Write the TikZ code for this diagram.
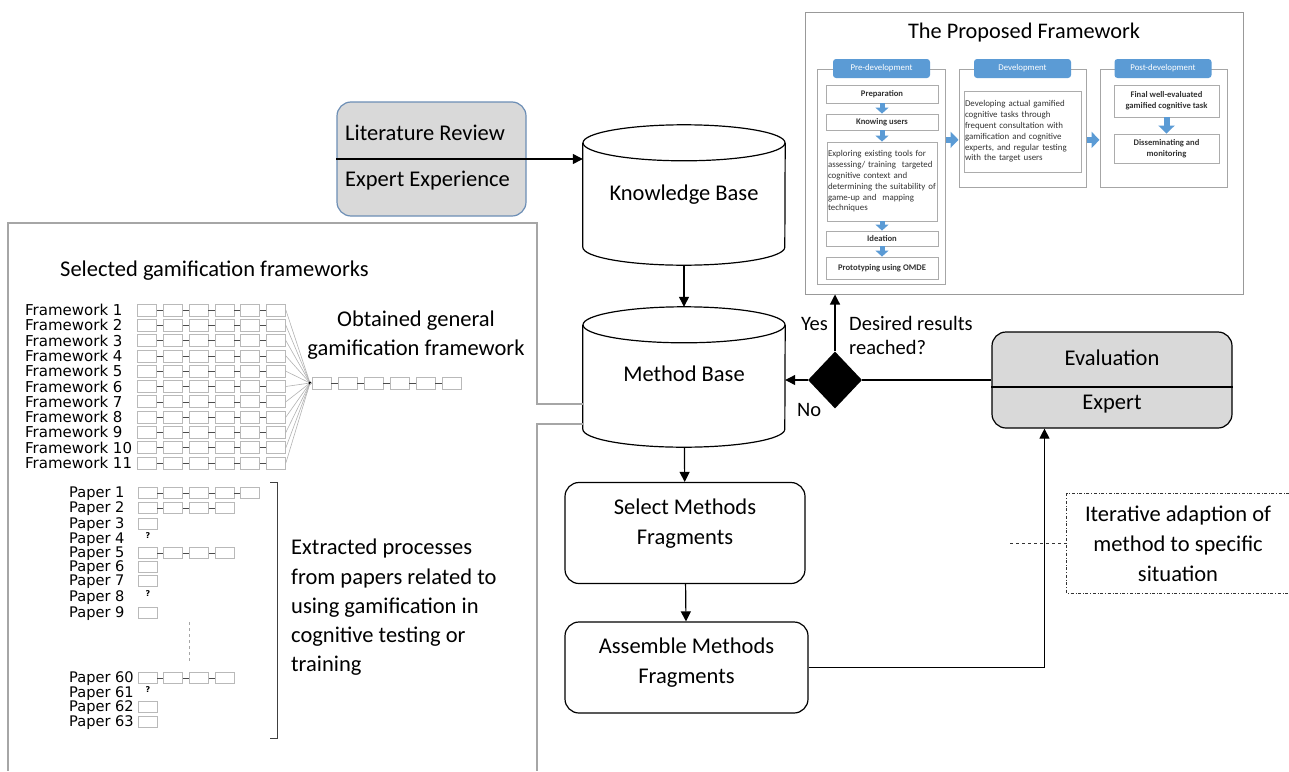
\documentclass[tikz,border=0pt]{standalone}
\usepackage{fontspec}
\setmainfont{Carlito}
\newfontfamily\listfont{DejaVu Sans}
\usetikzlibrary{arrows.meta, positioning, shapes.geometric, calc}
\definecolor{hdrblue}{HTML}{5B9BD5}
\definecolor{boxgray}{HTML}{D9D9D9}
\definecolor{panelgray}{HTML}{A6A6A6}
\definecolor{litedge}{HTML}{6C8EB5}
\newcommand{\mainsz}{\fontsize{22.5}{30}\selectfont}
\tikzset{
  base/.style     = {font=\mainsz, align=center, inner sep=0pt},
  dbbox/.style    = {base, minimum width=202pt, minimum height=140pt},
  dbline/.style   = {line width=1.2pt},
  proc/.style     = {draw, rounded corners=14pt, line width=1.2pt},
  graybox/.style  = {draw, fill=boxgray, rounded corners=14pt, line width=1.2pt},
  flow/.style     = {-{Triangle[length=10pt,width=10pt]}, line width=1.2pt},
  link/.style     = {line width=1.2pt},
  panel/.style    = {draw=panelgray, line width=1.2pt},
  cell/.style     = {draw=gray!55, line width=0.7pt, minimum width=19pt,
                     minimum height=12pt, inner sep=0pt},
  tiny link/.style= {gray!60!black, line width=0.6pt},
  fan/.style      = {gray!60, line width=0.6pt},
  fwlbl/.style    = {font=\listfont\fontsize{15}{15}\selectfont, anchor=west, inner sep=0pt},
  paplbl/.style   = {font=\listfont\fontsize{14.6}{14.6}\selectfont, anchor=west, inner sep=0pt},
  qmark/.style    = {font=\listfont\bfseries\fontsize{8}{8}\selectfont, inner sep=0pt},
  small/.style    = {font=\fontsize{20.5}{24}\selectfont, inner sep=0pt},
  phase/.style    = {draw=gray!70, line width=1pt, fill=white},
  hdr/.style      = {fill=hdrblue, rounded corners=3pt, text=white,
                     font=\fontsize{8.8}{9}\selectfont, minimum width=97pt,
                     minimum height=19pt, inner sep=0pt},
  stepbox/.style  = {draw=gray!65, line width=0.9pt, fill=white, align=center,
                     text=black!80, font=\bfseries\fontsize{8.6}{10.8}\selectfont, inner sep=1pt},
  longstep/.style = {stepbox, align=left, font=\fontsize{8.9}{10.8}\selectfont},
  barrow/.style   = {draw=hdrblue, line width=5pt, -{Triangle[length=6pt,width=13pt]}},
  big barrow/.style = {draw=hdrblue, line width=6pt, -{Triangle[length=8pt,width=16pt]}},
  dotbox/.style   = {dash dot, line width=0.8pt, black!80},
  leader/.style   = {dashed, line width=0.8pt, black!80},
}
% database drum drawn round a named box
\newcommand{\dbshape}[1]{%
  \draw[dbline] ($(#1.north)+(0,18)$) ellipse [x radius=101pt, y radius=18pt];
  \draw[dbline] ($(#1.north west)+(0,18)$) -- ($(#1.south west)+(0,-18)$)
    arc [start angle=180, end angle=360, x radius=101pt, y radius=18pt]
    -- ($(#1.north east)+(0,18)$);
}

\begin{document}
\begin{tikzpicture}[x=1pt, y=-1pt]
  \useasboundingbox (0,0) rectangle (1289,771);

  % sources and bases
  \node[graybox, draw=litedge, minimum width=189pt, minimum height=114pt] (lit) at (431.5,159) {};
  \node[base, anchor=west] (litrev) at (345,133) {Literature Review};
  \node[base, anchor=west] (expexp) at (345,181) {Expert Experience};

  \node[dbbox] (kb) at (684,195) {Knowledge Base};
  \dbshape{kb}
  \node[dbbox] (mb) at (684,377) {};
  \node[base] (mbtxt) at (684,374) {Method Base};
  \dbshape{mb}

  \draw[flow] (lit.west) -- (lit.west -| kb.west);
  \draw[flow] (kb) -- (mb);

  % method fragments
  \node[proc, minimum width=240pt, minimum height=101pt] (sel) at (685,533) {};
  \node[base] (seltxt) at (685,524) {Select Methods\\Fragments};
  \node[proc, minimum width=243pt, minimum height=91pt] (asm) at (686.5,667.5) {};
  \node[base] (asmtxt) at (686.5,663) {Assemble Methods\\Fragments};
  \draw[flow] (mb) -- (sel);
  \draw[flow] (sel) -- (asm);

  % evaluation and decision
  \node[graybox, minimum width=240pt, minimum height=96pt] (eval) at (1112,380) {};
  \draw[link] (eval.west |- 0,387) -- (eval.east |- 0,387);
  \node[base] (evtop) at (1112,358) {Evaluation};
  \node[base] (evbot) at (1112,404) {Expert};

  \node[diamond, fill=black, minimum width=54pt, minimum height=57pt, inner sep=0pt] (dec) at (835,380) {};
  \node[small, anchor=west] (yes) at (801,324) {Yes};
  \node[small, align=left, anchor=west] (ask) at (849,335) {Desired results\\reached?};
  \node[small, anchor=west] (no) at (797,410) {No};

  \draw[flow] (asm.east) -| ($(eval.south west)!0.22!(eval.south east)$);
  \draw[link] (eval.west) -- (dec.east);
  \draw[flow] (dec.west) -- (dec.west -| mb.east);

  % iterative adaption note
  \node[base, minimum width=222pt, minimum height=99pt] (note) at (1178,543.5) {Iterative adaption of\\method to specific\\situation};
  \draw[dotbox] (note.north east) -- (note.north west) -- (note.south west) -- (note.south east);
  \coordinate (notetip) at (1007,543.5);
  \draw[leader] (note.west) -- (notetip);

  % the proposed framework
  \node[draw=gray!80, line width=1pt, minimum width=438pt, minimum height=282pt] (frame) at (1024,153) {};
  \node[base, font=\fontsize{22.3}{24}\selectfont] (ftitle) at (1024,33) {The Proposed Framework};
  \draw[flow] (dec.north) -- (dec.north |- frame.south);

  \node[phase, minimum width=128pt, minimum height=215pt] (pre) at (881,176.5) {};
  \node[phase, minimum width=127pt, minimum height=118pt] (dev) at (1022.5,128) {};
  \node[phase, minimum width=127pt, minimum height=118pt] (post) at (1163.5,128) {};
  \node[hdr] (hpre) at (881.5,68.5) {Pre-development};
  \node[hdr] (hdev) at (1022.5,68.5) {Development};
  \node[hdr] (hpost) at (1163,68.5) {Post-development};

  \node[stepbox, minimum width=112pt, minimum height=18pt] (prep) at (882,94) {Preparation};
  \node[stepbox, minimum width=112pt, minimum height=16pt] (know) at (882,122) {Knowing users};
  \node[longstep, text width=108pt, minimum height=79pt] (expl) at (882,181.5)
    {Exploring existing tools for\\assessing/ training\ \ targeted\\cognitive context and\\determining the suitability of\\game-up and\ \ mapping\\techniques};
  \node[stepbox, minimum width=112pt, minimum height=15pt] (idea) at (882,238.5) {Ideation};
  \node[stepbox, minimum width=112pt, minimum height=22pt] (proto) at (882,268) {Prototyping using OMDE};

  \node[longstep, text width=115pt, minimum height=81pt] (devtask) at (1022.5,131.5)
    {Developing actual gamified\\cognitive tasks through\\frequent consultation with\\gamification and cognitive\\experts, and regular testing\\with the target users};

  \node[stepbox, minimum width=105pt, minimum height=32pt] (final) at (1166.5,101) {Final well-evaluated\\gamified cognitive task};
  \node[stepbox, minimum width=105pt, minimum height=29pt] (dissem) at (1166.5,148.5) {Disseminating and\\monitoring};

  \draw[barrow] (prep) -- (know);
  \draw[barrow] (know) -- (expl);
  \draw[barrow] (expl) -- (idea);
  \draw[barrow] (idea) -- (proto);
  \draw[big barrow] (final) -- (dissem);
  \draw[big barrow] ($(pre.north east)!0.33!(pre.south east)$) coordinate (pd) -- (pd -| dev.west);
  \draw[big barrow] ($(dev.north east)!0.6!(dev.south east)$) coordinate (dp) -- (dp -| post.west);

  % left panel
  \draw[panel] (mb.west |- 0,404) -- (537,404) |- (8,223) -- (8,771);
  \draw[panel] (mb.west |- 0,424) -- (537,424) -- (537,771);
  \node[base, anchor=west] (seltitle) at (60,271) {Selected gamification frameworks};

  \coordinate (merge) at (310,383);
  \foreach \i in {1,...,11} {
    \pgfmathsetmacro\yy{310+15.3*(\i-1)}
    \node[fwlbl] (fw\i) at (25,\yy) {Framework \i};
    \foreach \k in {1,...,6} {
      \node[cell] (fc\i-\k) at ({147+25.8*(\k-1)},\yy) {};
    }
    \foreach \k [evaluate=\k as \j using int(\k+1)] in {1,...,5}
      \draw[tiny link] (fc\i-\k) -- (fc\i-\j);
    \draw[fan] (fc\i-6.east) -- (merge);
  }
  \fill (merge) circle (1.6pt);
  \foreach \k in {1,...,6}
    \node[cell] (gc\k) at ({321.5+26*(\k-1)},383) {};
  \foreach \k [evaluate=\k as \j using int(\k+1)] in {1,...,5}
    \draw[tiny link] (gc\k) -- (gc\j);
  \draw[fan] (merge) -- (gc1);
  \node[base, font=\fontsize{22.5}{29}\selectfont] (gentxt) at (416,335.5) {Obtained general\\gamification framework};

  % papers
  \foreach \p/\yy/\n in {1/494/5, 2/509/4, 3/525/1, 4/540/0, 5/554/4, 6/568/1, 7/582/1,
                         8/598/0, 9/614/1, 60/679/4, 61/694/0, 62/708/1, 63/723/1} {
    \node[paplbl] (pp\p) at (69,\yy) {Paper \p};
    \ifnum\n=0
      \node[qmark] (pq\p) at (148,\yy-4) {?};
    \else
      \foreach \k in {1,...,\n} {
        \node[cell, minimum height=11.5pt] (pc\p-\k) at ({147.5+25.7*(\k-1)},\yy-1) {};
        \ifnum\k>1
          \pgfmathtruncatemacro\prev{\k-1}
          \draw[tiny link] (pc\p-\prev) -- (pc\p-\k);
        \fi
      }
    \fi
  }
  \draw[panelgray, dashed, line width=0.8pt] (189,622) -- (189,663);
  \draw[black!75, line width=1pt] (270,482) -- (277,482) -- (277,738) -- (270,738);
  \node[base, font=\fontsize{22.5}{29.3}\selectfont, align=left, anchor=west] (extxt) at (291,607.5)
    {Extracted processes\\from papers related to\\using gamification in\\cognitive testing or\\training};
\end{tikzpicture}
\end{document}
